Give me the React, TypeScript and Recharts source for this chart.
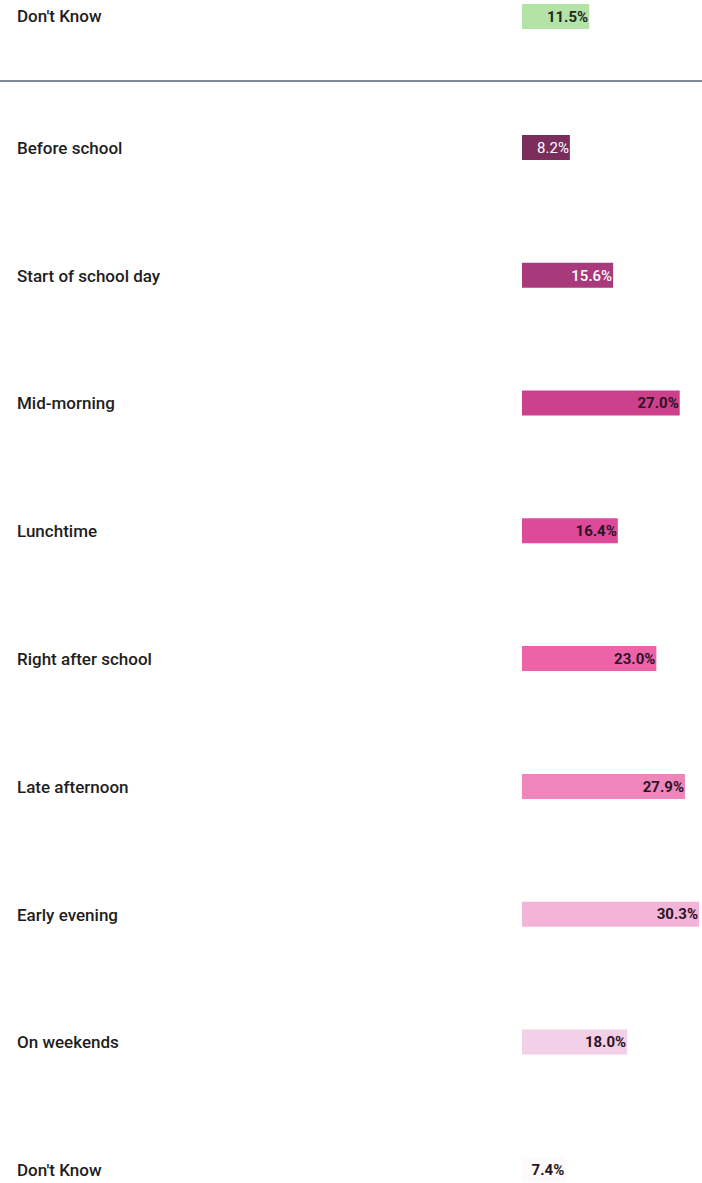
import React from "react";
import { BarChart, Bar, XAxis, YAxis, Cell, LabelList } from "recharts";

const topCategories = ["Don't Know"];
const topValues = [11.5];
const topColors = ["#b5e2a6"];

const categories = [
  "Before school",
  "Start of school day",
  "Mid-morning",
  "Lunchtime",
  "Right after school",
  "Late afternoon",
  "Early evening",
  "On weekends",
  "Don't Know",
];
const values = [8.2, 15.6, 27.0, 16.4, 23.0, 27.9, 30.3, 18.0, 7.4];
const colors = [
  "#7b2e5c",
  "#a8397a",
  "#cd408c",
  "#dc4a99",
  "#ec63a9",
  "#ef86bb",
  "#f3b4d8",
  "#f1d0e8",
  "#fefafc",
];
const labelColors = ["#ffffff", "#ffffff", "#2a1526", "#2a1526", "#2a1526", "#2a1526", "#2a1526", "#2a1526", "#2a1526"];
const labelWeights = [400, 500, 700, 700, 700, 700, 700, 700, 700];

const topData = topCategories.map((c, i) => ({ name: c, value: topValues[i] }));
const data = categories.map((c, i) => ({ name: c, value: values[i] }));

const FONT = "Roboto, 'Noto Sans', sans-serif";

const LeftTick = (props: any) => {
  const { y, payload } = props;
  return (
    <text x={17} y={y} dy="0.35em" textAnchor="start" fontFamily={FONT} fontSize={17} fontWeight={500} fill="#1e1e1e">
      {payload.value}
    </text>
  );
};

const makeLabel = (fills: string[], weights: number[]) => (props: any) => {
  const { x, y, width, height, value, index } = props;
  return (
    <text
      x={x + width - 1}
      y={y + height / 2}
      dy="0.35em"
      textAnchor="end"
      fontFamily={FONT}
      fontSize={15}
      fontWeight={weights[index]}
      fill={fills[index]}
    >
      {Number(value).toFixed(1)}%
    </text>
  );
};

const DOMAIN: [number, number] = [0, 30.3];

export default function App() {
  return (
    <div style={{ position: "fixed", top: 0, left: 0, width: 702, height: 1183, overflow: "hidden", background: "#fff" }}>
      <div style={{ position: "absolute", top: 0, left: 0 }}>
        <BarChart width={702} height={32} data={topData} layout="vertical" margin={{ top: 0, right: 3, bottom: 0, left: 0 }}>
          <XAxis type="number" domain={DOMAIN} hide />
          <YAxis type="category" dataKey="name" width={522} axisLine={false} tickLine={false} tick={<LeftTick />} />
          <Bar dataKey="value" barSize={25} isAnimationActive={false}>
            {topData.map((_, i) => (
              <Cell key={i} fill={topColors[i]} />
            ))}
            <LabelList dataKey="value" content={makeLabel(["#1e2c1e"], [700])} />
          </Bar>
        </BarChart>
      </div>
      <div style={{ position: "absolute", top: 80, left: 0, width: 702, height: 2, background: "#7e899b" }} />
      <div style={{ position: "absolute", top: 83.6, left: 0 }}>
        <BarChart width={702} height={1150} data={data} layout="vertical" margin={{ top: 0, right: 3, bottom: 0, left: 0 }}>
          <XAxis type="number" domain={DOMAIN} hide />
          <YAxis type="category" dataKey="name" width={522} axisLine={false} tickLine={false} tick={<LeftTick />} />
          <Bar dataKey="value" barSize={25} isAnimationActive={false}>
            {data.map((_, i) => (
              <Cell key={i} fill={colors[i]} />
            ))}
            <LabelList dataKey="value" content={makeLabel(labelColors, labelWeights)} />
          </Bar>
        </BarChart>
      </div>
    </div>
  );
}
